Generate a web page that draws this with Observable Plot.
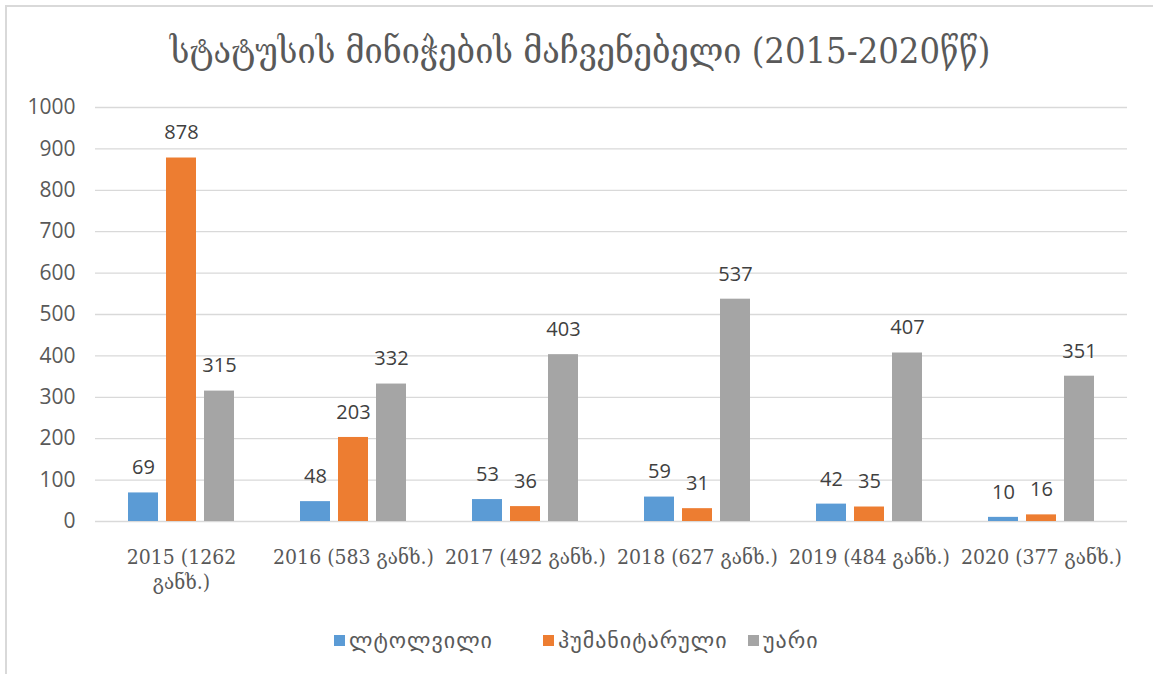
<!DOCTYPE html>
<html>
<head>
<meta charset="utf-8">
<script src="https://cdn.jsdelivr.net/npm/d3@7"></script>
<script src="https://cdn.jsdelivr.net/npm/@observablehq/plot@0.6"></script>
<style>
  html, body { margin: 0; padding: 0; background: #fff; }
  #wrap { position: relative; width: 1153px; height: 674px; overflow: hidden; background: #fff; }
  #frame { position: absolute; left: 5px; top: 5px; width: 1200px; height: 700px; border-left: 2px solid #d9d9d9; border-top: 2px solid #d9d9d9; }
  #title { position: absolute; left: 0; width: 1160px; top: 30px; text-align: center; font-family: "DejaVu Serif Condensed", "DejaVu Serif", serif; font-size: 36px; color: #595959; white-space: nowrap; }
  #chart { position: absolute; left: 0; top: 0; }
  #legend { position: absolute; top: 626px; left: 0; width: 1153px; height: 28px; font-family: "DejaVu Sans", sans-serif; font-size: 22px; letter-spacing: 1px; color: #595959; }
  .item { position: absolute; top: 0; display: flex; align-items: center; height: 28px; white-space: nowrap; }
  .sw { width: 11px; height: 11px; margin-right: 4px; }
</style>
</head>
<body>
<div id="wrap">
  <div id="frame"></div>
  <div id="title"></div>
  <div id="chart"></div>
  <div id="legend"></div>
</div>
<script>
const titleText = "სტატუსის მინიჭების მაჩვენებელი (2015-2020წწ)";
const categories = ["2015 (1262 განხ.)", "2016 (583 განხ.)", "2017 (492 განხ.)", "2018 (627 განხ.)", "2019 (484 განხ.)", "2020 (377 განხ.)"];
const series = ["ლტოლვილი", "ჰუმანიტარული", "უარი"];
const refugee = [69, 48, 53, 59, 42, 10];
const humanitarian = [878, 203, 36, 31, 35, 16];
const refusal = [315, 332, 403, 537, 407, 351];
const yTicks = [0, 100, 200, 300, 400, 500, 600, 700, 800, 900, 1000];
const colors = ["#5B9BD5", "#ED7D31", "#A5A5A5"];

document.getElementById("title").textContent = titleText;

const valuesBySeries = [refugee, humanitarian, refusal];
const data = [];
categories.forEach((c, i) => {
  series.forEach((s, j) => data.push({category: c, series: s, value: valuesBySeries[j][i]}));
});

const sansFont = "'Open Sans', 'Liberation Sans', sans-serif";
const serifFont = "'DejaVu Serif Condensed', 'DejaVu Serif', serif";

const chart = Plot.plot({
  width: 1153,
  height: 610,
  marginTop: 107,
  marginBottom: 89,
  marginLeft: 92,
  marginRight: 24,
  style: {background: "transparent", overflow: "visible"},
  fx: {domain: categories, padding: 0},
  x: {domain: series, paddingInner: 0.2, paddingOuter: 0.86, axis: null},
  y: {domain: [0, 1000], axis: null},
  color: {domain: series, range: colors},
  marks: [
    Plot.gridY(yTicks, {stroke: "#d9d9d9", strokeOpacity: 1, strokeWidth: 1.3}),
    Plot.axisY(yTicks, {tickSize: 0, tickPadding: 20, fontSize: 21, fill: "#595959", fontFamily: sansFont, tickFormat: d => String(d), label: null}),
    Plot.barY(data, {fx: "category", x: "series", y: "value", fill: "series"}),
    Plot.text(data, {fx: "category", x: "series", y: "value", text: d => String(d.value), dy: -25, lineAnchor: "middle", fontSize: 20, fill: "#404040", fontFamily: sansFont}),
    Plot.axisFx({anchor: "bottom", tickSize: 0, tickPadding: 24, fontSize: 21, fill: "#595959", fontFamily: serifFont, lineHeight: 1.22, label: null,
      tickFormat: (d, i) => i === 0 ? d.replace(" განხ.", "\nგანხ.") : d})
  ]
});
document.getElementById("chart").appendChild(chart);

const legend = document.getElementById("legend");
const lefts = [334, 543, 748];
series.forEach((s, j) => {
  const it = document.createElement("div");
  it.className = "item";
  it.style.left = lefts[j] + "px";
  const sw = document.createElement("div");
  sw.className = "sw";
  sw.style.background = colors[j];
  const t = document.createElement("span");
  t.textContent = s;
  it.appendChild(sw); it.appendChild(t);
  legend.appendChild(it);
});
</script>
</body>
</html>
